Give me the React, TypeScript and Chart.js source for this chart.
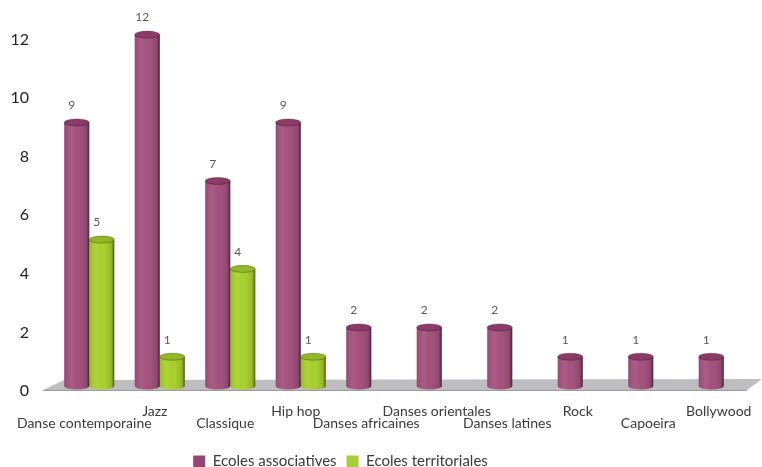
import React, { useEffect, useRef } from "react";
import { Chart, registerables } from "chart.js";

Chart.register(...registerables);

const categories = [
  "Danse contemporaine",
  "Jazz",
  "Classique",
  "Hip hop",
  "Danses africaines",
  "Danses orientales",
  "Danses latines",
  "Rock",
  "Capoeira",
  "Bollywood",
];
const associatives = [9, 12, 7, 9, 2, 2, 2, 1, 1, 1];
const territoriales = [5, 1, 4, 1, null, null, null, null, null, null];
const seriesNames = ["Ecoles associatives", "Ecoles territoriales"];
const yMin = 0;
const yMax = 12;
const yStep = 2;

const BODY = ["#A4527F", "#A9D12E"];
const TOP = ["#8C3B68", "#93B825"];
const LEGEND = ["#954672", "#A6CE39"];

const cylinderPlugin = {
  id: "cylinder",
  beforeDraw(chart: any) {
    const lg = chart.legend;
    if (lg && !lg._shifted) {
      lg.left -= 39;
      lg.right -= 39;
      lg.top += 12;
      lg.bottom += 12;
      lg._shifted = true;
    }
  },
  afterLayout(chart: any) {
    if (chart.legend) chart.legend._shifted = false;
  },
  beforeDatasetsDraw(chart: any) {
    const ctx = chart.ctx;
    const ca = chart.chartArea;
    const yb = chart.scales.y.getPixelForValue(0);
    ctx.save();
    ctx.fillStyle = "#BEBEC0";
    ctx.beginPath();
    ctx.moveTo(ca.left - 11, yb + 4);
    ctx.lineTo(ca.left + 10, yb - 6);
    ctx.lineTo(chart.width, yb - 7);
    ctx.lineTo(ca.right - 12, yb + 4);
    ctx.closePath();
    ctx.fill();
    ctx.strokeStyle = "#9A9A9C";
    ctx.lineWidth = 1;
    ctx.beginPath();
    ctx.moveTo(ca.left - 11, yb + 4.5);
    ctx.lineTo(ca.right - 12, yb + 4.5);
    ctx.stroke();
    ctx.restore();
  },
  afterDatasetsDraw(chart: any) {
    const ctx = chart.ctx;
    ctx.save();
    chart.data.datasets.forEach((ds: any, di: number) => {
      const meta = chart.getDatasetMeta(di);
      meta.data.forEach((bar: any, i: number) => {
        const v = ds.data[i];
        if (v == null) return;
        const { x, y, base, width } = bar.getProps(["x", "y", "base", "width"], true);
        const rx = width / 2;
        const ry = 3.5;
        const l = x - rx;
        ctx.fillStyle = BODY[di];
        ctx.beginPath();
        ctx.ellipse(x, base, rx, ry, 0, 0, Math.PI);
        ctx.fill();
        const g = ctx.createLinearGradient(l, 0, l + width, 0);
        g.addColorStop(0, "rgba(0,0,0,0.10)");
        g.addColorStop(0.3, "rgba(255,255,255,0.06)");
        g.addColorStop(0.6, "rgba(0,0,0,0.0)");
        g.addColorStop(0.88, "rgba(0,0,0,0.12)");
        g.addColorStop(1, "rgba(0,0,0,0.55)");
        ctx.fillStyle = g;
        ctx.beginPath();
        ctx.rect(l, y, width, base - y);
        ctx.fill();
        ctx.beginPath();
        ctx.ellipse(x, base, rx, ry, 0, 0, Math.PI);
        ctx.fill();
        ctx.fillStyle = TOP[di];
        ctx.beginPath();
        ctx.ellipse(x, y, rx, ry, 0, 0, Math.PI * 2);
        ctx.fill();
        ctx.strokeStyle = "rgba(0,0,0,0.35)";
        ctx.lineWidth = 0.8;
        ctx.stroke();
        ctx.fillStyle = "#595959";
        ctx.font = "12px Lato, 'Open Sans', sans-serif";
        ctx.textAlign = "center";
        ctx.textBaseline = "middle";
        ctx.fillText(String(v), x - 5, y - 17);
      });
    });
    ctx.restore();
  },
};

export default function App() {
  const ref = useRef<HTMLCanvasElement | null>(null);

  useEffect(() => {
    document.body.style.margin = "0";
    const canvas = ref.current;
    if (!canvas) return;
    const chart = new Chart(canvas, {
      type: "bar",
      data: {
        labels: categories,
        datasets: [
          {
            label: seriesNames[0],
            data: associatives,
            backgroundColor: BODY[0],
            borderWidth: 0,
          },
          {
            label: seriesNames[1],
            data: territoriales as any,
            backgroundColor: BODY[1],
            borderWidth: 0,
          },
        ],
      },
      options: {
        responsive: false,
        animation: false,
        events: [],
        layout: { padding: { top: 32, right: 3, left: 0, bottom: 0 } },
        datasets: {
          bar: { categoryPercentage: 0.71, barPercentage: 1 },
        },
        plugins: {
          tooltip: { enabled: false },
          legend: {
            position: "bottom",
            labels: {
              boxWidth: 12,
              boxHeight: 12,
              padding: 10,
              color: "#3A3A3A",
              font: { size: 15, family: "Lato, 'Open Sans', sans-serif" },
              generateLabels: (c: any) => {
                const items = Chart.defaults.plugins.legend.labels.generateLabels(c);
                return items.map((it: any, k: number) => ({
                  ...it,
                  fillStyle: LEGEND[k],
                  strokeStyle: LEGEND[k],
                  lineWidth: 0,
                }));
              },
            },
          },
        },
        scales: {
          x: {
            grid: { display: false, drawTicks: false },
            border: { display: false },
            ticks: {
              autoSkip: false,
              maxRotation: 0,
              minRotation: 0,
              padding: 19,
              labelOffset: -5,
              color: "#3A3A3A",
              font: { size: 14, family: "Lato, 'Open Sans', sans-serif", lineHeight: 0.9 },
              callback: (_v: any, i: number) =>
                i % 2 === 0 ? ["", categories[i]] : [categories[i]],
            },
            afterFit: (s: any) => {
              s.height = 46;
              s.paddingLeft = 0;
              s.paddingRight = 0;
            },
          },
          y: {
            min: yMin,
            max: yMax,
            grid: { display: false, drawTicks: false },
            border: { display: false },
            ticks: {
              stepSize: yStep,
              padding: 25,
              labelOffset: 5,
              color: "#222",
              font: { size: 16, family: "Lato, 'Open Sans', sans-serif" },
            },
            afterFit: (s: any) => {
              s.width = 54;
            },
          },
        },
      },
      plugins: [cylinderPlugin],
    });
    return () => chart.destroy();
  }, []);

  return <canvas ref={ref} width={762} height={467} style={{ display: "block" }} />;
}
